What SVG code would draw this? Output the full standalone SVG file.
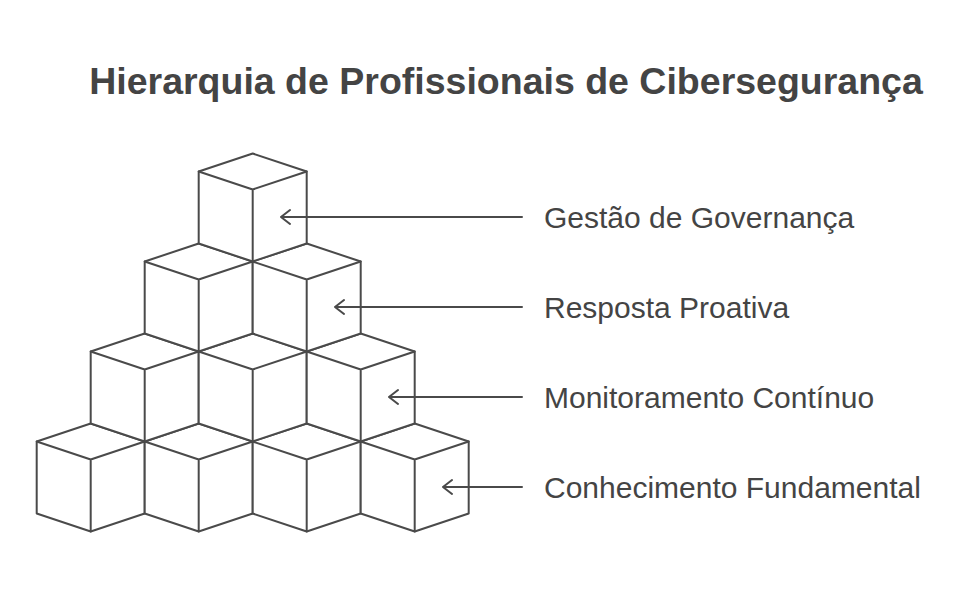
<svg xmlns="http://www.w3.org/2000/svg" xmlns:xlink="http://www.w3.org/1999/xlink" width="974" height="605" viewBox="0 0 974 605">
<style>
.cube{fill:#fff;stroke:#4a4a4a;stroke-width:2;stroke-linejoin:round}
.edge{fill:none;stroke:#4a4a4a;stroke-width:2;stroke-linecap:round;stroke-linejoin:round}
.lbl{font-family:"Liberation Sans",Arial,sans-serif;font-size:30px;fill:#444}
.title{font-family:"Liberation Sans",Arial,sans-serif;font-size:37.5px;font-weight:bold;fill:#444}
</style>
<defs>
<g id="cube">
<path class="cube" d="M0,0 L54,18 L54,90 L0,108 L-54,90 L-54,18 Z"/>
<path class="edge" d="M-54,18 L0,36 L54,18 M0,36 V108"/>
</g>
</defs>
<rect width="974" height="605" fill="#fff"/>
<text class="title" x="506" y="94" text-anchor="middle">Hierarquia de Profissionais de Cibersegurança</text>
<g id="row4">
<use xlink:href="#cube" x="90.7" y="423.5"/>
<use xlink:href="#cube" x="198.7" y="423.5"/>
<use xlink:href="#cube" x="306.7" y="423.5"/>
<use xlink:href="#cube" x="414.7" y="423.5"/>
</g>
<g id="row3">
<use xlink:href="#cube" x="144.7" y="333.5"/>
<use xlink:href="#cube" x="252.7" y="333.5"/>
<use xlink:href="#cube" x="360.7" y="333.5"/>
</g>
<g id="row2">
<use xlink:href="#cube" x="198.7" y="243.5"/>
<use xlink:href="#cube" x="306.7" y="243.5"/>
</g>
<g id="row1">
<use xlink:href="#cube" x="252.7" y="153.5"/>
</g>
<g id="connectors">
<path class="edge" d="M522,217 H281 M290,210 L281,217 L290,224"/>
<path class="edge" d="M522,307 H335 M344,300 L335,307 L344,314"/>
<path class="edge" d="M522,397 H389 M398,390 L389,397 L398,404"/>
<path class="edge" d="M522,487 H443 M452,480 L443,487 L452,494"/>
</g>
<g id="label1"><text class="lbl" x="544" y="228">Gestão de Governança</text></g>
<g id="label2"><text class="lbl" x="544" y="318">Resposta Proativa</text></g>
<g id="label3"><text class="lbl" x="544" y="408">Monitoramento Contínuo</text></g>
<g id="label4"><text class="lbl" x="544" y="497.5">Conhecimento Fundamental</text></g>
</svg>
